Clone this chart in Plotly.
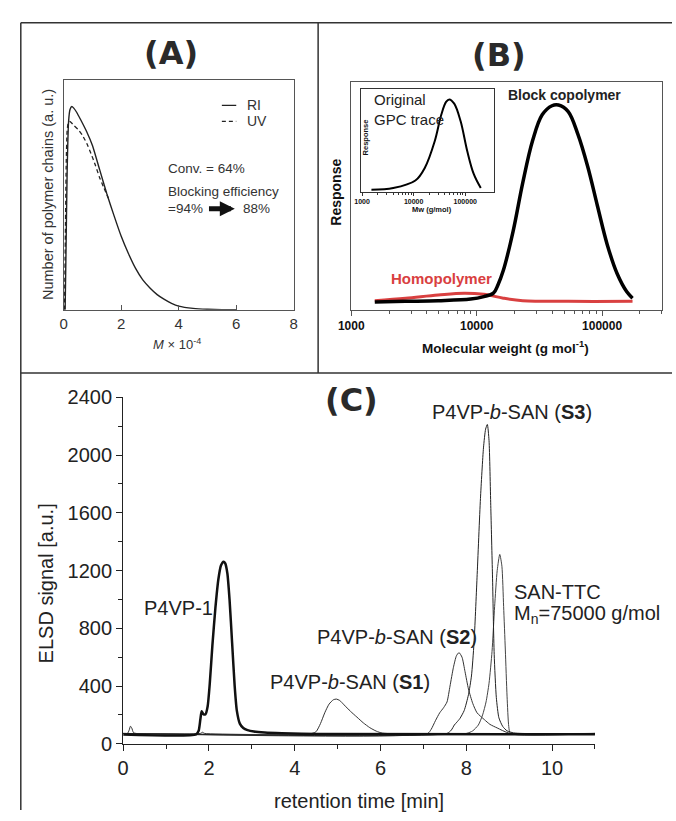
import plotly.graph_objects as go

W, H = 676, 821
FONT = "Liberation Sans, Arial, sans-serif"


def fx(p):
    return p / W


def fy(p):
    return 1 - p / H


# ---------------- Panel A data ----------------
a_ri_x = [0.05, 0.08, 0.12, 0.17, 0.22, 0.28, 0.35, 0.45, 0.6, 0.8, 1.0, 1.25, 1.5, 1.75,
          2.0, 2.25, 2.5, 2.75, 3.0, 3.25, 3.5, 3.75, 4.0, 4.5, 5.0, 5.5, 6.0]
a_ri_y = [0.0, 0.25, 0.6, 0.82, 0.872, 0.885, 0.878, 0.86, 0.825, 0.775, 0.715, 0.61, 0.505, 0.41,
          0.32, 0.245, 0.18, 0.13, 0.095, 0.066, 0.045, 0.028, 0.016, 0.006, 0.002, 0.0005, 0.0]
a_uv_x = [0.03, 0.06, 0.09, 0.12, 0.16, 0.2, 0.26, 0.35, 0.5, 0.65, 0.8, 0.95, 1.1, 1.25, 1.4, 1.55]
a_uv_y = [0.0, 0.35, 0.65, 0.78, 0.815, 0.82, 0.815, 0.803, 0.785, 0.76, 0.725, 0.68, 0.63, 0.575, 0.53, 0.487]
a_ticks = [0, 2, 4, 6, 8]

# ---------------- Panel B data ----------------
b_block_mw = [1540, 2710, 4930, 8950, 11400, 13600, 14800, 16300, 19500, 23300, 27900, 33300,
              39900, 44900, 53700, 64100, 76900, 91800, 110000, 132000, 157000, 175000]
b_block_y = [0.034, 0.037, 0.040, 0.047, 0.058, 0.073, 0.11, 0.172, 0.343, 0.557, 0.742, 0.856,
             0.896, 0.899, 0.870, 0.771, 0.628, 0.457, 0.286, 0.158, 0.080, 0.051]
b_homo_mw = [1540, 2710, 4930, 7940, 11400, 16300, 23300, 53700, 175000]
b_homo_y = [0.040, 0.051, 0.065, 0.073, 0.068, 0.051, 0.040, 0.037, 0.037]
b_ticks = [1000, 10000, 100000]
b_minor = [2000, 3000, 4000, 5000, 6000, 7000, 8000, 9000,
           20000, 30000, 40000, 50000, 60000, 70000, 80000, 90000, 200000, 300000]

inset_mw = [1520, 4020, 10800, 16600, 25600, 34200, 42500, 49200, 61200, 81500, 109000, 146000, 200000]
inset_y = [0.022, 0.038, 0.111, 0.238, 0.492, 0.746, 0.873, 0.898, 0.857, 0.686, 0.400, 0.175, 0.038]

# ---------------- Panel C data ----------------
c_p4vp_x = [0, 1.70, 1.76, 1.80, 1.83, 1.87, 1.92, 1.97, 2.02, 2.08, 2.15, 2.22, 2.28, 2.34, 2.38,
            2.43, 2.48, 2.54, 2.60, 2.65, 2.72, 2.80, 2.90, 3.05, 3.3, 3.7, 4.5, 11]
c_p4vp_y = [65, 65, 90, 170, 225, 205, 205, 260, 420, 680, 940, 1140, 1235, 1262, 1250,
            1180, 1000, 700, 400, 230, 140, 110, 95, 85, 78, 73, 68, 66]
c_s1_x = [0, 0.1, 0.14, 0.17, 0.2, 0.24, 0.3, 1.8, 1.85, 1.9, 4.40, 4.50, 4.60, 4.70, 4.80, 4.90,
          4.97, 5.05, 5.15, 5.30, 5.45, 5.60, 5.75, 5.90, 6.05, 11]
c_s1_y = [72, 72, 95, 122, 110, 78, 72, 72, 80, 72, 72, 85, 140, 215, 275, 305,
          310, 300, 270, 225, 185, 145, 112, 88, 74, 72]
c_s2_x = [0, 7.10, 7.18, 7.28, 7.38, 7.47, 7.55, 7.62, 7.70, 7.77, 7.83, 7.90, 7.97, 8.05, 8.15,
          8.25, 8.42, 8.55, 8.72, 9.0, 11]
c_s2_y = [72, 72, 100, 160, 215, 250, 290, 400, 530, 610, 632, 600, 500, 380, 280,
          215, 168, 135, 110, 74, 72]
c_s3_x = [0, 7.55, 7.65, 7.72, 7.78, 7.85, 7.95, 8.05, 8.12, 8.18, 8.25, 8.33, 8.40, 8.45, 8.49,
          8.53, 8.57, 8.61, 8.65, 8.70, 8.76, 8.85, 8.95, 9.1, 9.3, 11]
c_s3_y = [72, 72, 95, 130, 150, 175, 230, 340, 470, 700, 1150, 1700, 2050, 2180, 2212,
          2100, 1650, 1170, 620, 320, 180, 120, 90, 76, 72, 72]
c_san_x = [0, 8.0, 8.15, 8.28, 8.38, 8.46, 8.53, 8.60, 8.66, 8.72, 8.78, 8.83, 8.87, 8.91, 8.95,
           8.99, 9.03, 11]
c_san_y = [72, 72, 90, 130, 200, 290, 420, 640, 950, 1200, 1312, 1230, 950, 650, 330,
           120, 72, 72]

fig = go.Figure()

# Panel A traces
fig.add_trace(go.Scatter(x=a_ri_x, y=a_ri_y, mode="lines", xaxis="x", yaxis="y",
                         line=dict(color="#222", width=1.4, shape="spline", smoothing=0.5),
                         showlegend=False))
fig.add_trace(go.Scatter(x=a_uv_x, y=a_uv_y, mode="lines", xaxis="x", yaxis="y",
                         line=dict(color="#222", width=1.3, dash="4px,3px", shape="spline",
                                   smoothing=0.5), showlegend=False))

# Panel B traces
fig.add_trace(go.Scatter(x=b_homo_mw, y=b_homo_y, mode="lines", xaxis="x2", yaxis="y2",
                         line=dict(color="#d94040", width=3, shape="spline"), showlegend=False))
fig.add_trace(go.Scatter(x=b_block_mw, y=b_block_y, mode="lines", xaxis="x2", yaxis="y2",
                         line=dict(color="#000", width=3.5, shape="spline"), showlegend=False))
fig.add_trace(go.Scatter(x=inset_mw, y=inset_y, mode="lines", xaxis="x3", yaxis="y3",
                         line=dict(color="#000", width=2, shape="spline"), showlegend=False))

# Panel C traces
for xs, ys, col in [(c_s1_x, c_s1_y, "#333"), (c_s2_x, c_s2_y, "#333"),
                    (c_san_x, c_san_y, "#444"), (c_s3_x, c_s3_y, "#222")]:
    fig.add_trace(go.Scatter(x=xs, y=ys, mode="lines", xaxis="x4", yaxis="y4",
                             line=dict(color=col, width=1, shape="spline", smoothing=0.6),
                             showlegend=False))
fig.add_trace(go.Scatter(x=c_p4vp_x, y=c_p4vp_y, mode="lines", xaxis="x4", yaxis="y4",
                         line=dict(color="#111", width=2.5, shape="spline", smoothing=0.6),
                         showlegend=False))

axis_common = dict(showgrid=False, zeroline=False)

layout = dict(
    width=W, height=H, autosize=False,
    margin=dict(l=0, r=0, t=0, b=0),
    paper_bgcolor="white", plot_bgcolor="white",
    font=dict(family=FONT, color="#222"),
    hovermode=False,
    # Panel A
    xaxis=dict(domain=[fx(52), fx(288)], range=[0, 8], anchor="y", showline=True, mirror=True,
               linecolor="#555", linewidth=1, ticks="inside", ticklen=5, tickcolor="#555",
               tickvals=a_ticks, tickfont=dict(size=15, color="#333"), **axis_common),
    yaxis=dict(domain=[fy(307), fy(71)], range=[0, 1], anchor="x", showline=True, mirror=True,
               linecolor="#555", linewidth=1, showticklabels=False, ticks="", **axis_common),
    # Panel B
    xaxis2=dict(domain=[fx(347), fx(666)], type="log", range=[3, 5.48], anchor="y2",
                showline=True, mirror=True, linecolor="#555", linewidth=1,
                ticks="outside", ticklen=5, tickcolor="#555", tickvals=b_ticks,
                ticktext=[str(v) for v in b_ticks],
                tickfont=dict(size=12, color="#111", family="Liberation Sans, Arial", weight="bold"),
                minor=dict(tickvals=b_minor, ticks="outside", ticklen=3, tickcolor="#555"),
                **axis_common),
    yaxis2=dict(domain=[fy(307), fy(73)], range=[0, 1], anchor="x2", showline=True, mirror=True,
                linecolor="#555", linewidth=1, showticklabels=False, ticks="", **axis_common),
    # Inset
    xaxis3=dict(domain=[fx(357), fx(493)], type="log", range=[2.98, 5.55], anchor="y3",
                showline=True, mirror=True, linecolor="#333", linewidth=1,
                ticks="outside", ticklen=3, tickcolor="#333", tickvals=b_ticks,
                ticktext=[str(v) for v in b_ticks],
                tickfont=dict(size=7, color="#111", weight="bold"),
                minor=dict(tickvals=b_minor[:16], ticks="outside", ticklen=2, tickcolor="#333"),
                **axis_common),
    yaxis3=dict(domain=[fy(186), fy(80)], range=[0, 1], anchor="x3", showline=True, mirror=True,
                linecolor="#333", linewidth=1, showticklabels=False, ticks="", **axis_common),
    # Panel C
    xaxis4=dict(domain=[fx(113), fx(597)], range=[0, 11], anchor="y4", showline=True,
                linecolor="#222", linewidth=1.2, ticks="outside", ticklen=6, tickcolor="#222",
                tickvals=[0, 2, 4, 6, 8, 10], tickfont=dict(size=20, color="#222"),
                minor=dict(dtick=1, ticks="outside", ticklen=4, tickcolor="#222"),
                **axis_common),
    yaxis4=dict(domain=[fy(753), fy(397)], range=[0, 2400], anchor="x4", showline=True,
                linecolor="#222", linewidth=1.2, ticks="outside", ticklen=6, tickcolor="#222",
                tickvals=[0, 400, 800, 1200, 1600, 2000, 2400], tickfont=dict(size=20, color="#222"),
                minor=dict(dtick=200, ticks="outside", ticklen=4, tickcolor="#222"),
                **axis_common),
)

shapes = []
frame = dict(color="#333", width=1.5)
# outer frame and dividers
shapes.append(dict(type="line", xref="paper", yref="paper", x0=fx(8), x1=fx(8), y0=fy(12), y1=0, line=frame))
shapes.append(dict(type="line", xref="paper", yref="paper", x0=fx(8), x1=1, y0=fy(12), y1=fy(12), line=frame))
shapes.append(dict(type="line", xref="paper", yref="paper", x0=fx(313), x1=fx(313), y0=fy(12), y1=fy(372), line=frame))
shapes.append(dict(type="line", xref="paper", yref="paper", x0=fx(8), x1=1, y0=fy(372), y1=fy(372), line=frame))
# panel A legend samples
shapes.append(dict(type="line", xref="x", yref="y", x0=5.5, x1=6.0, y0=0.89, y1=0.89,
                   line=dict(color="#222", width=1.4)))
shapes.append(dict(type="line", xref="x", yref="y", x0=5.5, x1=6.0, y0=0.82, y1=0.82,
                   line=dict(color="#222", width=1.3, dash="4px,3px")))
layout["shapes"] = shapes

ann = []


def txt(text, x, y, xref="paper", yref="paper", size=14, xanchor="center", yanchor="middle",
        color="#222", textangle=0, family=FONT, weight="normal"):
    ann.append(dict(text=text, x=x, y=y, xref=xref, yref=yref, showarrow=False,
                    xanchor=xanchor, yanchor=yanchor, textangle=textangle,
                    font=dict(size=size, color=color, family=family, weight=weight)))


# Panel labels
txt("(A)", fx(162), fy(43), size=32, weight="bold", color="#2a2a2a", family="DejaVu Sans, sans-serif")
txt("(B)", fx(499), fy(45), size=32, weight="bold", color="#2a2a2a", family="DejaVu Sans, sans-serif")
txt("(C)", fx(347), fy(400), size=32, weight="bold", color="#2a2a2a", family="DejaVu Sans, sans-serif")

# Panel A texts
txt("Number of polymer chains (a. u.)", fx(36), fy(189), size=14.5, textangle=-90, color="#333")
txt("<i>M</i> × 10<sup>-4</sup>", fx(168), fy(342), size=13, color="#333")
txt("RI", 6.3, 0.89, xref="x", yref="y", size=14, xanchor="left", color="#333")
txt("UV", 6.3, 0.82, xref="x", yref="y", size=14, xanchor="left", color="#333")
txt("Conv. = 64%", 3.55, 0.614, xref="x", yref="y", size=13.5, xanchor="left", color="#333")
txt("Blocking efficiency", 3.55, 0.513, xref="x", yref="y", size=13.5, xanchor="left", color="#333")
txt("=94%", 3.55, 0.44, xref="x", yref="y", size=13.5, xanchor="left", color="#333")
txt("88%", 6.18, 0.44, xref="x", yref="y", size=13.5, xanchor="left", color="#333")
ann.append(dict(x=5.95, y=0.44, ax=5.0, ay=0.44, xref="x", yref="y", axref="x", ayref="y",
                text="", showarrow=True, arrowhead=2, arrowsize=0.6, arrowwidth=5,
                arrowcolor="#111"))

# Panel B texts
txt("Response", fx(331), fy(186), size=14, textangle=-90, weight="bold", color="#111")
txt("Molecular weight (g mol<sup>-1</sup>)", fx(505), fy(345), size=13.5, weight="bold", color="#111")
txt("Block copolymer", 4.704, 0.944, xref="x2", yref="y2", size=14, weight="bold", color="#222")
txt("Homopolymer", 3.716, 0.137, xref="x2", yref="y2", size=15, weight="bold", color="#d94040")
txt("Original", 3.19, 0.895, xref="x3", yref="y3", size=15, xanchor="left", color="#222")
txt("GPC trace", 3.19, 0.705, xref="x3", yref="y3", size=15, xanchor="left", color="#222")
txt("Response", fx(362), fy(130), size=7.5, textangle=-90, weight="bold", color="#111")
txt("Mw (g/mol)", fx(430), fy(204), size=7.5, weight="bold", color="#111")

# Panel C texts
txt("ELSD signal [a.u.]", fx(34), fy(588), size=20, textangle=-90)
txt("retention time [min]", fx(355), fy(812), size=20)
txt("P4VP-1", 1.29, 942, xref="x4", yref="y4", size=20)
txt("P4VP-<i>b</i>-SAN (<b>S1</b>)", 5.30, 425, xref="x4", yref="y4", size=20)
txt("P4VP-<i>b</i>-SAN (<b>S2</b>)", 6.39, 740, xref="x4", yref="y4", size=20)
txt("P4VP-<i>b</i>-SAN (<b>S3</b>)", 9.07, 2302, xref="x4", yref="y4", size=20)
txt("SAN-TTC", 9.07, 1054, xref="x4", yref="y4", size=20, xanchor="left")
txt("M<sub>n</sub>=75000 g/mol", 9.07, 897, xref="x4", yref="y4", size=20, xanchor="left")

layout["annotations"] = ann
fig.update_layout(**layout)

fig.write_html("out.html", config={"displayModeBar": False},
               post_script="document.body.style.margin='0px';document.body.style.overflow='hidden';")
